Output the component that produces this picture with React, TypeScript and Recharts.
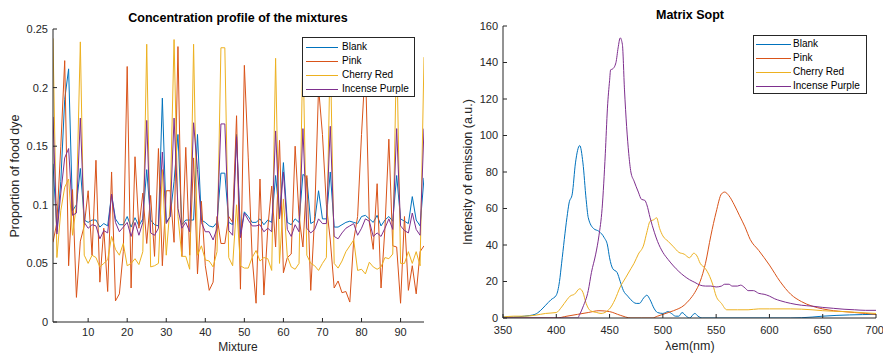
import { LineChart, Line, XAxis, YAxis } from "recharts";

const FONT = '"Liberation Sans", Arial, sans-serif';
const AXIS = "#262626";

const SERIES = ["Blank", "Pink", "Cherry Red", "Incense Purple"];
const COLORS = ["#0072BD", "#D95319", "#EDB120", "#7E2F8E"];

// left panel: proportion of each dye in the 96 mixtures
const BLANK = [
  0.135, 0.077, 0.12, 0.19, 0.216, 0.095, 0.1, 0.131, 0.087, 0.085,
  0.087, 0.087, 0.081, 0.084, 0.082, 0.109, 0.088, 0.083, 0.083, 0.09,
  0.081, 0.089, 0.082, 0.088, 0.13, 0.087, 0.083, 0.082, 0.191, 0.085,
  0.09, 0.12, 0.16, 0.083, 0.087, 0.087, 0.087, 0.16, 0.087, 0.085,
  0.082, 0.081, 0.085, 0.127, 0.127, 0.085, 0.083, 0.16, 0.075, 0.094,
  0.09, 0.085, 0.085, 0.088, 0.083, 0.087, 0.085, 0.125, 0.09, 0.136,
  0.085, 0.083, 0.088, 0.085, 0.126, 0.123, 0.084, 0.086, 0.112, 0.088,
  0.088, 0.128, 0.081, 0.081, 0.083, 0.085, 0.086, 0.085, 0.084, 0.09,
  0.091, 0.088, 0.085, 0.091, 0.082, 0.087, 0.09, 0.086, 0.125, 0.088,
  0.086, 0.084, 0.107, 0.087, 0.082, 0.123,
];
const PINK = [
  0.068, 0.085, 0.15, 0.223, 0.048, 0.113, 0.021, 0.069, 0.082, 0.112,
  0.057, 0.138, 0.034, 0.08, 0.026, 0.128, 0.018, 0.024, 0.06, 0.218,
  0.029, 0.141, 0.08, 0.11, 0.067, 0.108, 0.056, 0.148, 0.048, 0.112,
  0.112, 0.068, 0.235, 0.056, 0.149, 0.057, 0.14, 0.041, 0.103, 0.048,
  0.027, 0.034, 0.09, 0.067, 0.067, 0.09, 0.085, 0.176, 0.028, 0.219,
  0.14, 0.055, 0.016, 0.122, 0.023, 0.08, 0.116, 0.064, 0.155, 0.042,
  0.055, 0.058, 0.15, 0.09, 0.064, 0.125, 0.027, 0.09, 0.2, 0.16,
  0.1, 0.07, 0.029, 0.035, 0.025, 0.026, 0.017, 0.07, 0.09, 0.16,
  0.22, 0.085, 0.062, 0.118, 0.029, 0.08, 0.156, 0.065, 0.064, 0.016,
  0.09, 0.027, 0.048, 0.024, 0.06, 0.065,
];
const CHERRY = [
  0.242, 0.055, 0.095, 0.115, 0.122, 0.074, 0.1, 0.239, 0.057, 0.05,
  0.057, 0.055, 0.047, 0.05, 0.053, 0.073, 0.062, 0.057, 0.067, 0.048,
  0.05, 0.054, 0.049, 0.06, 0.237, 0.047, 0.048, 0.05, 0.13, 0.057,
  0.1, 0.241, 0.09, 0.056, 0.056, 0.045, 0.237, 0.057, 0.065, 0.053,
  0.052, 0.047, 0.06, 0.234, 0.234, 0.055, 0.048, 0.1, 0.048, 0.046,
  0.046, 0.055, 0.061, 0.052, 0.055, 0.054, 0.044, 0.225, 0.05, 0.105,
  0.056, 0.047, 0.045, 0.05, 0.235, 0.057, 0.05, 0.048, 0.044, 0.05,
  0.055, 0.235, 0.05, 0.046, 0.052, 0.06, 0.065, 0.07, 0.044, 0.045,
  0.041, 0.051, 0.047, 0.045, 0.047, 0.055, 0.054, 0.058, 0.238, 0.05,
  0.05, 0.06, 0.05, 0.06, 0.048, 0.226,
];
const PURPLE = [
  0.175, 0.075, 0.11, 0.14, 0.148, 0.091, 0.093, 0.174, 0.085, 0.08,
  0.083, 0.082, 0.071, 0.078, 0.076, 0.109, 0.085, 0.077, 0.081, 0.085,
  0.073, 0.085, 0.074, 0.085, 0.172, 0.076, 0.074, 0.08, 0.145, 0.084,
  0.09, 0.174, 0.097, 0.08, 0.085, 0.077, 0.17, 0.13, 0.085, 0.077,
  0.077, 0.07, 0.08, 0.169, 0.169, 0.078, 0.074, 0.158, 0.072, 0.093,
  0.087, 0.082, 0.082, 0.083, 0.077, 0.08, 0.077, 0.163, 0.088, 0.128,
  0.079, 0.073, 0.083, 0.077, 0.165, 0.08, 0.076, 0.079, 0.088, 0.084,
  0.084, 0.167, 0.073, 0.071, 0.076, 0.08, 0.082, 0.084, 0.074, 0.08,
  0.088, 0.086, 0.073, 0.076, 0.073, 0.08, 0.088, 0.079, 0.165, 0.082,
  0.078, 0.076, 0.093, 0.079, 0.074, 0.165,
];
const MIX_TICKS = [10, 20, 30, 40, 50, 60, 70, 80, 90];
const PROP_TICKS = [0, 0.05, 0.1, 0.15, 0.2, 0.25];

// right panel: emission spectra (wavelength nm, intensity a.u.)
const BLANK_WL = [350, 360, 370, 380, 385, 390, 395, 400, 403, 405, 410, 412, 415, 418, 422, 425, 428, 430, 435, 440, 445, 448, 450, 453, 457, 460, 463, 467, 470, 475, 478, 482, 485, 488, 492, 495, 500, 505, 508, 512, 515, 518, 522, 525, 530, 533, 537, 550, 600, 620, 640, 650, 700];
const BLANK_EM = [0.5, 0.5, 1, 2, 4, 7, 10, 12.5, 20, 30, 55, 63, 68, 85, 94.5, 85, 65, 55, 49, 47.5, 44, 40, 33, 27, 25, 20, 15, 12, 10, 8, 8, 11, 12.5, 10, 5, 3, 2.5, 3.5, 2.5, 1, 1, 3, 1, 0, 2.5, 1, 0, 0, 0, 0, 0.5, 1, 2];
const PINK_WL = [350, 400, 410, 420, 430, 440, 450, 460, 470, 480, 490, 495, 500, 510, 520, 525, 530, 535, 540, 545, 550, 555, 558, 562, 567, 572, 577, 582, 590, 600, 610, 620, 630, 640, 650, 660, 670, 680, 690, 700];
const PINK_EM = [0, 0, 1, 2, 3, 4, 3.5, 1.5, 0, 0, 0, 1, 2, 4, 7, 10, 14, 20, 30, 45, 58, 68, 69, 67, 62, 56, 50, 43, 37, 29, 20, 13, 9, 6.5, 5, 4, 3.5, 3, 2.5, 2];
const CHERRY_WL = [350, 360, 370, 380, 390, 400, 405, 410, 413, 417, 422, 425, 428, 432, 438, 442, 447, 450, 455, 460, 465, 470, 473, 477, 482, 485, 488, 492, 494, 497, 500, 505, 510, 515, 520, 525, 529, 532, 535, 540, 543, 547, 550, 555, 560, 570, 580, 590, 600, 620, 640, 650, 670, 700];
const CHERRY_EM = [0.5, 1, 1, 1.5, 2.5, 3, 6, 10, 12, 13, 16, 14, 8, 4, 3, 2.5, 3.5, 5, 10, 17, 22, 27, 30, 35, 40, 47, 53, 54, 55, 49, 45, 42, 39, 36, 35, 33, 35.5, 34, 30, 27, 24, 18, 12, 8, 4.5, 4.5, 4.5, 5, 5, 5, 4.5, 4, 3.5, 2.5];
const PURPLE_WL = [350, 400, 420, 422, 425, 430, 433, 437, 440, 443, 446, 448, 450, 451, 453, 456, 458, 460, 462, 464, 466, 468, 470, 473, 477, 480, 483, 485, 488, 492, 495, 500, 505, 510, 515, 520, 525, 530, 535, 540, 545, 550, 555, 558, 562, 565, 570, 573, 577, 580, 585, 590, 595, 600, 605, 610, 620, 630, 640, 650, 660, 670, 680, 690, 700];
const PURPLE_EM = [0, 0, 0, 2, 6, 15, 25, 35, 45, 60, 90, 115, 130, 136, 136.5, 140, 148, 153.5, 150, 125, 105, 90, 80, 75, 69, 65, 64.5, 62, 55, 47, 42, 36, 32, 28.5, 25.5, 23, 21, 19.5, 18, 17.5, 17.5, 17, 17.5, 18.5, 18.5, 17.5, 17.5, 18, 16.5, 15, 15, 13.5, 13, 12, 10.5, 9.5, 8, 7, 6.5, 5.8, 5.3, 4.8, 4.5, 4.2, 4.2];
const WL_TICKS = [350, 400, 450, 500, 550, 600, 650, 700];
const EM_TICKS = [0, 20, 40, 60, 80, 100, 120, 140, 160];

const mixData = BLANK.map((v, i) => ({
  mix: i + 1,
  blank: v,
  pink: PINK[i],
  cherry: CHERRY[i],
  purple: PURPLE[i],
}));

const zip = (wl: number[], em: number[]) => wl.map((w, i) => ({ wl: w, em: em[i] }));
const spectra = [
  zip(BLANK_WL, BLANK_EM),
  zip(PINK_WL, PINK_EM),
  zip(CHERRY_WL, CHERRY_EM),
  zip(PURPLE_WL, PURPLE_EM),
];

const tickStyle = { fontSize: 11, fill: AXIS, fontFamily: FONT };

function LegendBox({ left, top, width, height, lineX, lineW, textX, rowH, padTop }: any) {
  return (
    <div
      style={{
        position: "absolute", left, top, width, height, boxSizing: "border-box",
        border: `1px solid ${AXIS}`, background: "#fff", fontFamily: FONT, fontSize: 10, color: "#000",
      }}
    >
      <svg width={width} height={height} style={{ position: "absolute", left: -1, top: -1 }}>
        {COLORS.map((c, i) => {
          const y = Math.round(padTop + i * rowH + rowH / 2) + 0.5;
          return <line key={c} x1={lineX} x2={lineX + lineW} y1={y} y2={y} stroke={c} strokeWidth={1} />;
        })}
      </svg>
      {SERIES.map((name, i) => (
        <div key={name} style={{ position: "absolute", left: textX - 1, top: padTop + i * rowH - 1, height: rowH, lineHeight: `${rowH}px`, whiteSpace: "nowrap" }}>
          {name}
        </div>
      ))}
    </div>
  );
}

const text = (extra: any) => ({ position: "absolute" as const, fontFamily: FONT, color: "#000", whiteSpace: "nowrap" as const, ...extra });

export default function App() {
  return (
    <div style={{ position: "absolute", left: 0, top: 0, width: 883, height: 353, background: "#fff", overflow: "hidden" }}>
      <div style={{ position: "absolute", left: 0, top: 0 }}>
        <LineChart width={440} height={353} data={mixData} margin={{ top: 29, right: 16, bottom: 0, left: 0 }}>
          <XAxis xAxisId="b" dataKey="mix" type="number" domain={[1, 96]} ticks={MIX_TICKS} height={31}
            tickSize={-4} tickMargin={10} stroke={AXIS} tick={tickStyle} allowDataOverflow />
          <XAxis xAxisId="t" orientation="top" dataKey="mix" type="number" domain={[1, 96]} ticks={MIX_TICKS} height={0}
            tickSize={-4} stroke={AXIS} tick={false} allowDataOverflow />
          <YAxis yAxisId="l" type="number" domain={[0, 0.25]} ticks={PROP_TICKS} width={53}
            tickSize={-4} tickMargin={9} stroke={AXIS} tick={tickStyle} allowDataOverflow />
          <YAxis yAxisId="r" orientation="right" type="number" domain={[0, 0.25]} ticks={PROP_TICKS} width={0}
            tickSize={-4} stroke={AXIS} tick={false} allowDataOverflow />
          {["blank", "pink", "cherry", "purple"].map((k, i) => (
            <Line key={k} xAxisId="b" yAxisId="l" dataKey={k} type="linear" stroke={COLORS[i]} strokeWidth={1}
              dot={false} activeDot={false} isAnimationActive={false} />
          ))}
        </LineChart>
      </div>
      <div style={{ position: "absolute", left: 440, top: 0 }}>
        <LineChart width={443} height={353} margin={{ top: 26, right: 7, bottom: 0, left: 0 }}>
          <XAxis xAxisId="b" dataKey="wl" type="number" domain={[350, 700]} ticks={WL_TICKS} height={35}
            tickSize={-4} tickMargin={12} stroke={AXIS} tick={tickStyle} allowDataOverflow />
          <XAxis xAxisId="t" orientation="top" dataKey="wl" type="number" domain={[350, 700]} ticks={WL_TICKS} height={0}
            tickSize={-4} stroke={AXIS} tick={false} allowDataOverflow />
          <YAxis yAxisId="l" type="number" domain={[0, 160]} ticks={EM_TICKS} width={63}
            tickSize={-4} tickMargin={9} stroke={AXIS} tick={tickStyle} allowDataOverflow />
          <YAxis yAxisId="r" orientation="right" type="number" domain={[0, 160]} ticks={EM_TICKS} width={0}
            tickSize={-4} stroke={AXIS} tick={false} allowDataOverflow />
          {spectra.map((d, i) => (
            <Line key={SERIES[i]} data={d} xAxisId="b" yAxisId="l" dataKey="em" type="monotone" stroke={COLORS[i]}
              strokeWidth={1} dot={false} activeDot={false} isAnimationActive={false} />
          ))}
        </LineChart>
      </div>

      <div style={text({ left: 238, top: 18, transform: "translate(-50%, -50%)", fontSize: 12.5, fontWeight: "bold" })}>
        Concentration profile of the mixtures
      </div>
      <div style={text({ left: 690, top: 15, transform: "translate(-50%, -50%)", fontSize: 12.5, fontWeight: "bold" })}>
        Matrix Sopt
      </div>
      <div style={text({ left: 15, top: 175.5, transform: "translate(-50%, -50%) rotate(-90deg)", fontSize: 12.5, color: AXIS })}>
        Proportion of food dye
      </div>
      <div style={text({ left: 468, top: 172, transform: "translate(-50%, -50%) rotate(-90deg)", fontSize: 12.5, color: AXIS })}>
        Intensity of emission (a.u.)
      </div>
      <div style={text({ left: 238, top: 346.5, transform: "translate(-50%, -50%)", fontSize: 12, lineHeight: "12px", color: AXIS })}>
        Mixture
      </div>
      <div style={text({ left: 690, top: 346, transform: "translate(-50%, -50%)", fontSize: 12.5, color: AXIS })}>
        λem(nm)
      </div>

      <LegendBox left={302} top={37} width={113} height={60} lineX={4} lineW={32} textX={40} rowH={14.2} padTop={2.6} />
      <LegendBox left={753} top={35} width={114} height={59} lineX={3} lineW={35} textX={40} rowH={14} padTop={2.3} />
    </div>
  );
}
